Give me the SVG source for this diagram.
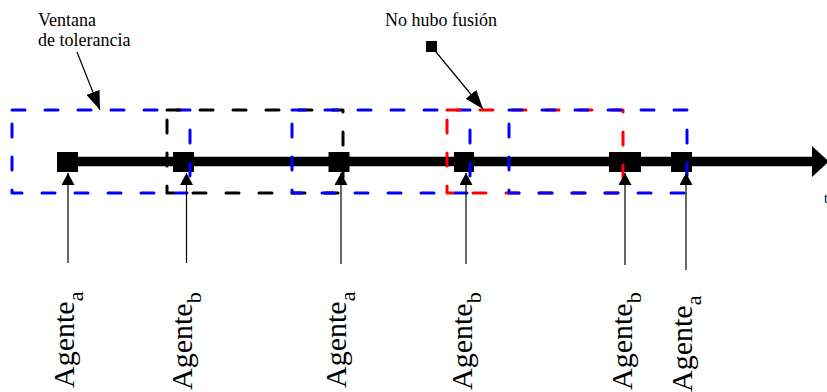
<svg xmlns="http://www.w3.org/2000/svg" width="827" height="392" viewBox="0 0 827 392">
  <style>
    .lbl { font-family: "Liberation Serif", "Times New Roman", serif; fill: #000; }
    .note { font-size: 18px; }
    .agent { font-size: 30px; }
    .sub { font-size: 22px; }
    .win { fill: none; stroke-width: 3; stroke-dasharray: 13 20; stroke-linecap: round; stroke-linejoin: round; }
    .blue { stroke: #0000ff; }
    .black { stroke: #000000; }
    .red { stroke: #ff0000; }
    .mark { fill: #000; }
    .ptr { stroke: #000; stroke-width: 1.2; fill: none; }
  </style>
  <defs>
    <marker id="head" viewBox="0 0 19 14" refX="19" refY="7" markerWidth="19" markerHeight="14" markerUnits="userSpaceOnUse" orient="auto">
      <path d="M0,0 L19,7 L0,14 z" fill="#000"/>
    </marker>
    <marker id="up" viewBox="0 0 12 13" refX="12" refY="6.5" markerWidth="12" markerHeight="13" markerUnits="userSpaceOnUse" orient="auto">
      <path d="M0,0 L12,6.5 L0,13 z" fill="#000"/>
    </marker>
  </defs>

  <!-- time axis -->
  <g id="axis">
    <line x1="57" y1="161.5" x2="813" y2="161.5" stroke="#000" stroke-width="9.5"/>
    <polygon points="812,146 829,161.5 812,177" fill="#000"/>
    <text class="lbl" x="824" y="203" font-size="14">t</text>
  </g>

  <!-- events on the axis -->
  <g id="events">
    <rect class="mark" x="57" y="152" width="21" height="20"/>
    <rect class="mark" x="173" y="152" width="21" height="20"/>
    <rect class="mark" x="328.5" y="152" width="21" height="20"/>
    <rect class="mark" x="454" y="152" width="20" height="20"/>
    <rect class="mark" x="609" y="152" width="32" height="20"/>
    <rect class="mark" x="671" y="152" width="21" height="20"/>
  </g>

  <!-- tolerance windows -->
  <g id="windows">
    <rect id="win-1" class="win blue" x="12" y="110" width="178" height="83"/>
    <rect id="win-2" class="win black" x="167" y="110" width="176" height="83"/>
    <rect id="win-3" class="win blue" x="292" y="110" width="178" height="83"/>
    <rect id="win-4" class="win red" x="447" y="110" width="176" height="83"/>
    <rect id="win-5" class="win blue" x="509" y="110" width="178" height="83"/>
  </g>

  <!-- connectors -->
  <g id="connectors">
    <line class="ptr" x1="68" y1="263" x2="68" y2="173" marker-end="url(#up)"/>
    <line class="ptr" x1="186.5" y1="263" x2="186.5" y2="173" marker-end="url(#up)"/>
    <line class="ptr" x1="341" y1="264" x2="341" y2="173" marker-end="url(#up)"/>
    <line class="ptr" x1="466" y1="264" x2="466" y2="173" marker-end="url(#up)"/>
    <line class="ptr" x1="625" y1="265" x2="625" y2="173" marker-end="url(#up)"/>
    <line class="ptr" x1="686" y1="270" x2="686" y2="173" marker-end="url(#up)"/>
    <line class="ptr" x1="77" y1="52" x2="100" y2="110" marker-end="url(#head)"/>
    <line class="ptr" x1="436" y1="52" x2="483" y2="109" marker-end="url(#head)"/>
  </g>

  <!-- annotations -->
  <g id="note-window">
    <text class="lbl note" x="38" y="26">Ventana</text>
    <text class="lbl note" x="38" y="46">de tolerancia</text>
  </g>
  <g id="note-fusion">
    <rect class="mark" x="426" y="41" width="11" height="11"/>
    <text class="lbl note" x="385" y="26">No hubo fusión</text>
  </g>

  <!-- agent labels -->
  <g id="agent-1">
    <text class="lbl agent" transform="translate(74,388) rotate(-90)">Agente<tspan class="sub" dy="9">a</tspan></text>
  </g>
  <g id="agent-2">
    <text class="lbl agent" transform="translate(192,390) rotate(-90)">Agente<tspan class="sub" dy="9">b</tspan></text>
  </g>
  <g id="agent-3">
    <text class="lbl agent" transform="translate(346,388) rotate(-90)">Agente<tspan class="sub" dy="9">a</tspan></text>
  </g>
  <g id="agent-4">
    <text class="lbl agent" transform="translate(472,390) rotate(-90)">Agente<tspan class="sub" dy="9">b</tspan></text>
  </g>
  <g id="agent-5">
    <text class="lbl agent" transform="translate(632,390) rotate(-90)">Agente<tspan class="sub" dy="9">b</tspan></text>
  </g>
  <g id="agent-6">
    <text class="lbl agent" transform="translate(692,392) rotate(-90)">Agente<tspan class="sub" dy="9">a</tspan></text>
  </g>
</svg>
